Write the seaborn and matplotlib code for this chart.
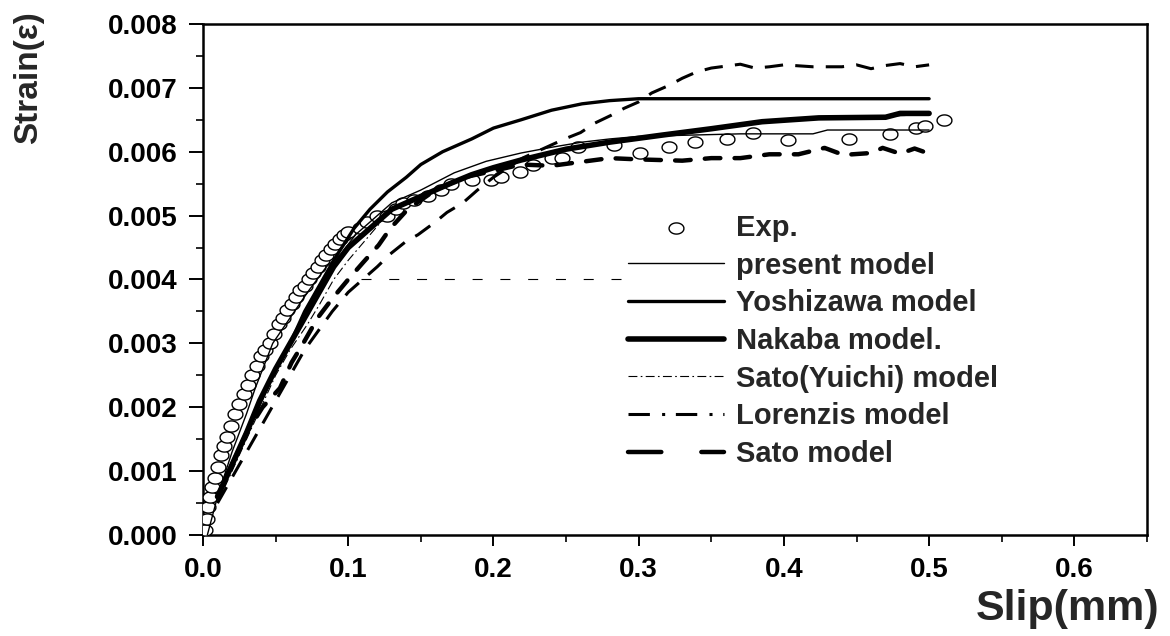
import numpy as np
import pandas as pd
import matplotlib
matplotlib.use('Agg')
import matplotlib.pyplot as plt
from matplotlib.path import Path
from matplotlib.lines import Line2D
from matplotlib.ticker import MultipleLocator, FormatStrFormatter
import seaborn as sns

# Exp. data (open circles)
exp_x = [0.0014, 0.0025, 0.0035, 0.0047, 0.006, 0.008, 0.010, 0.0125, 0.0145, 0.0166, 0.019,
         0.022, 0.025, 0.028, 0.031, 0.034, 0.037, 0.040, 0.043, 0.046, 0.049, 0.052,
         0.055, 0.058, 0.061, 0.064, 0.067, 0.070, 0.073, 0.076, 0.079, 0.082, 0.085,
         0.088, 0.091, 0.094, 0.097, 0.100, 0.108, 0.113, 0.120, 0.127, 0.133, 0.138,
         0.145, 0.155, 0.164, 0.171, 0.185, 0.198, 0.205, 0.218, 0.227, 0.240, 0.247,
         0.258, 0.283, 0.301, 0.321, 0.339, 0.361, 0.379, 0.403, 0.445, 0.473, 0.491,
         0.497, 0.510]
exp_y = [0.00008, 0.00025, 0.00044, 0.0006, 0.00075, 0.0009, 0.00106, 0.00125, 0.0014, 0.00153, 0.0017,
         0.0019, 0.00205, 0.0022, 0.00235, 0.0025, 0.00265, 0.0028, 0.0029, 0.0030, 0.00315, 0.0033,
         0.0034, 0.00352, 0.00362, 0.00372, 0.00384, 0.0039, 0.0040, 0.0041, 0.0042, 0.0043, 0.00438,
         0.00447, 0.00455, 0.00463, 0.0047, 0.00475, 0.0048, 0.0049, 0.0050, 0.0050, 0.0051, 0.0052,
         0.00524, 0.0053, 0.0054, 0.0055, 0.00556, 0.00556, 0.0056, 0.00568, 0.0058, 0.0059, 0.0059,
         0.00607, 0.0061, 0.00598, 0.00607, 0.00615, 0.0062, 0.00629, 0.00618, 0.0062, 0.00628, 0.00637,
         0.0064, 0.0065]

# present model (thin solid)
present_x = [0.003, 0.010, 0.020, 0.030, 0.036, 0.048, 0.060, 0.072, 0.085, 0.095, 0.105, 0.115,
             0.130, 0.150, 0.173, 0.195, 0.219, 0.240, 0.261, 0.280, 0.300, 0.370, 0.420, 0.430, 0.500]
present_y = [0.0000, 0.0006, 0.0013, 0.0019, 0.0023, 0.0030, 0.0034, 0.0038, 0.0042, 0.0044, 0.0047,
             0.0049, 0.0052, 0.0054, 0.00567, 0.00585, 0.00598, 0.00607, 0.00615, 0.0062, 0.00624,
             0.00628, 0.00628, 0.00634, 0.00634]

# Yoshizawa model (medium solid)
yoshi_x = [0.010, 0.020, 0.030, 0.040, 0.050, 0.060, 0.070, 0.080, 0.090, 0.104, 0.115, 0.127,
           0.140, 0.150, 0.165, 0.185, 0.200, 0.219, 0.240, 0.261, 0.280, 0.300, 0.500]
yoshi_y = [0.0006, 0.0011, 0.0016, 0.0021, 0.0026, 0.0030, 0.0035, 0.0039, 0.0043, 0.0048, 0.0051,
           0.00537, 0.0056, 0.0058, 0.0060, 0.0062, 0.00637, 0.0065, 0.00665, 0.00675, 0.0068,
           0.00683, 0.00683]

# Nakaba model (thick solid)
nakaba_x = [0.010, 0.020, 0.030, 0.039, 0.050, 0.060, 0.070, 0.080, 0.090, 0.100, 0.115, 0.130,
            0.150, 0.170, 0.185, 0.200, 0.219, 0.250, 0.280, 0.316, 0.350, 0.385, 0.424, 0.470,
            0.480, 0.500]
nakaba_y = [0.0006, 0.0011, 0.0016, 0.0021, 0.0026, 0.0030, 0.0034, 0.0038, 0.0042, 0.0045, 0.0048,
            0.0051, 0.0053, 0.0055, 0.00564, 0.00575, 0.00587, 0.00604, 0.00615, 0.00626, 0.00636,
            0.00647, 0.00653, 0.00654, 0.0066, 0.0066]

# Sato(Yuichi) model (thin dash-dot)
yuichi_x = [0.010, 0.030, 0.050, 0.060, 0.072, 0.080, 0.090, 0.100, 0.115, 0.130, 0.150, 0.185,
            0.219, 0.250, 0.316, 0.385, 0.424, 0.500]
yuichi_y = [0.0005, 0.0015, 0.0025, 0.0029, 0.0033, 0.0036, 0.0040, 0.0043, 0.0047, 0.0051, 0.0053,
            0.00564, 0.00587, 0.00604, 0.00626, 0.00645, 0.00652, 0.00658]

# Lorenzis model (dashed on the curve)
loren_x = [0.010, 0.030, 0.050, 0.070, 0.089, 0.100, 0.110, 0.120, 0.129, 0.140, 0.148, 0.160,
           0.168, 0.179, 0.189, 0.200, 0.220, 0.249, 0.260, 0.270, 0.281, 0.290, 0.300, 0.309,
           0.321, 0.330, 0.340, 0.350, 0.360, 0.370, 0.380, 0.390, 0.400, 0.420, 0.440, 0.450,
           0.460, 0.470, 0.480, 0.490, 0.500]
loren_y = [0.0005, 0.0013, 0.0021, 0.0029, 0.0035, 0.0038, 0.0040, 0.0042, 0.0044, 0.0046, 0.0047,
           0.0049, 0.00505, 0.0052, 0.0054, 0.0056, 0.0059, 0.0062, 0.0063, 0.00645, 0.00657,
           0.00668, 0.00678, 0.00692, 0.00704, 0.00715, 0.00725, 0.00731, 0.00734, 0.00737, 0.00731,
           0.00733, 0.00736, 0.00733, 0.00733, 0.00736, 0.0073, 0.00735, 0.00738, 0.00733, 0.00736]

# Sato model (thick dashed)
sato_x = [0.010, 0.020, 0.030, 0.041, 0.053, 0.061, 0.069, 0.079, 0.089, 0.100, 0.110, 0.121,
          0.129, 0.141, 0.160, 0.180, 0.200, 0.219, 0.240, 0.260, 0.280, 0.300, 0.330, 0.350,
          0.370, 0.390, 0.410, 0.428, 0.441, 0.460, 0.468, 0.480, 0.490, 0.500]
sato_y = [0.0006, 0.0011, 0.0016, 0.0020, 0.0023, 0.0027, 0.0030, 0.0034, 0.0037, 0.0040, 0.00426,
          0.00454, 0.0048, 0.0051, 0.0054, 0.0056, 0.0057, 0.0058, 0.00578, 0.00584, 0.0059, 0.00588,
          0.00586, 0.0059, 0.0059, 0.00596, 0.00596, 0.00606, 0.00595, 0.00598, 0.00606, 0.00597,
          0.00605, 0.00597]

# stray thin dashed line at strain 0.004
stray_x = [0.109, 0.297]
stray_y = [0.0040, 0.0040]

sns.set_style('ticks')
plt.rcParams['font.family'] = ['Liberation Sans', 'DejaVu Sans']
plt.rcParams['font.weight'] = 'bold'
plt.rcParams['axes.labelweight'] = 'bold'

fig = plt.figure(figsize=(11.7, 6.36), dpi=100)
ax = fig.add_axes([0.1735, 0.1588, 0.8068, 0.8035])

# open ellipse marker (circles look slightly squashed in the original)
t = np.linspace(0, 2 * np.pi, 40)
ell = Path(np.column_stack([np.cos(t), 0.75 * np.sin(t)]))

exp_df = pd.DataFrame({'x': exp_x, 'y': exp_y})
sns.scatterplot(data=exp_df, x='x', y='y', ax=ax, marker=ell, s=115,
                facecolor='white', edgecolor='black', linewidth=1.0, label='Exp.', zorder=3)

sns.lineplot(x=present_x, y=present_y, ax=ax, color='black', lw=1.0,
             estimator=None, sort=False, label='present model', zorder=4)
sns.lineplot(x=yoshi_x, y=yoshi_y, ax=ax, color='black', lw=2.4,
             estimator=None, sort=False, label='Yoshizawa model', zorder=4)
sns.lineplot(x=nakaba_x, y=nakaba_y, ax=ax, color='black', lw=4.0,
             estimator=None, sort=False, label='Nakaba model.', zorder=4)
sns.lineplot(x=yuichi_x, y=yuichi_y, ax=ax, color='black', lw=0.8, linestyle=(0, (8, 3, 1.5, 3)),
             estimator=None, sort=False, label='Sato(Yuichi) model', zorder=2)
sns.lineplot(x=loren_x, y=loren_y, ax=ax, color='black', lw=2.2, linestyle=(0, (6, 4)),
             estimator=None, sort=False, label='Lorenzis model', zorder=4)
sns.lineplot(x=sato_x, y=sato_y, ax=ax, color='black', lw=3.2, linestyle=(0, (3.5, 3.2)),
             dash_capstyle='round', estimator=None, sort=False, label='Sato model', zorder=4)
ax.plot(stray_x, stray_y, color='black', lw=0.8, linestyle=(0, (9, 16)), zorder=2)

ax.set_xlim(0, 0.65)
ax.set_ylim(0, 0.008)
ax.xaxis.set_major_locator(MultipleLocator(0.1))
ax.xaxis.set_minor_locator(MultipleLocator(0.05))
ax.yaxis.set_major_locator(MultipleLocator(0.001))
ax.yaxis.set_minor_locator(MultipleLocator(0.0005))
ax.xaxis.set_major_formatter(FormatStrFormatter('%.1f'))
ax.yaxis.set_major_formatter(FormatStrFormatter('%.3f'))

for s in ax.spines.values():
    s.set_linewidth(1.8)
    s.set_color('black')
ax.tick_params(which='major', direction='out', length=10, width=1.4, labelsize=20, pad=8,
               colors='black')
ax.tick_params(which='minor', direction='out', length=5, width=1.4)
ax.tick_params(axis='x', which='major', length=8)
for lab in ax.get_xticklabels() + ax.get_yticklabels():
    lab.set_fontweight('bold')

ax.set_xlabel('Slip(mm)', fontsize=31, fontweight='bold', loc='right')
ax.xaxis.set_label_coords(1.013, -0.105)
ax.set_ylabel('Strain(ε)', fontsize=24, fontweight='bold', loc='top')
ax.yaxis.set_label_coords(-0.168, 1.025)

# legend: handles as drawn in the original key
handles, labels = ax.get_legend_handles_labels()
key_styles = {
    'Lorenzis model': dict(lw=2.2, linestyle=(0, (7, 4, 1, 3.5))),
    'Sato model': dict(lw=3.2, linestyle=(0, (7.5, 9)), dash_capstyle='round'),
}
handles = [Line2D([], [], color='black', **key_styles[lab]) if lab in key_styles else h
           for h, lab in zip(handles, labels)]
leg = ax.legend(handles, labels, loc='upper left', bbox_to_anchor=(0.45, 0.628), frameon=False,
                fontsize=21, handlelength=3.3, handletextpad=0.4, labelspacing=0.33, borderpad=0,
                borderaxespad=0, scatterpoints=1)
for txt in leg.get_texts():
    txt.set_fontweight('bold')

fig.savefig('out.png', dpi=100)
